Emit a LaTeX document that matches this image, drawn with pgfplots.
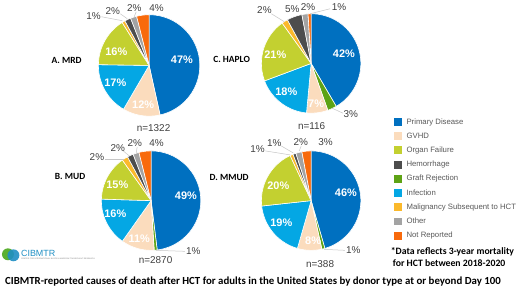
\documentclass[border=0pt]{standalone}
\usepackage{pgfplots}
\pgfplotsset{compat=1.18}
\usepackage{fontspec}
\setmainfont{Liberation Sans}
\newfontfamily\calfont{Carlito}
\definecolor{pdblue}{HTML}{0070C0}
\definecolor{gvhd}{HTML}{FBDCBD}
\definecolor{organ}{HTML}{C3D030}
\definecolor{hem}{HTML}{4D4D4D}
\definecolor{graft}{HTML}{5EA315}
\definecolor{infec}{HTML}{04A7E4}
\definecolor{malig}{HTML}{FBB92B}
\definecolor{other}{HTML}{A3A3A3}
\definecolor{notrep}{HTML}{F86A0C}
\definecolor{lbl}{HTML}{404040}
\definecolor{legtext}{HTML}{595959}
\definecolor{logoblue}{HTML}{1F8FC4}
\definecolor{logogreen}{HTML}{5BB031}
% one slice: centre x, centre y, radius, start %, end %, colour  (angles clockwise from 12 o'clock)
\newcommand\slice[6]{%
  \pgfmathsetmacro\sa{#4/\tot*360}%
  \pgfmathsetmacro\sb{#5/\tot*360}%
  \pgfmathtruncatemacro\sn{max(3,(\sb-\sa)/2+2)}%
  \addplot[forget plot, fill=#6, draw=white, line width=0.6pt, domain=\sa:\sb, samples=\sn, variable=\t]
    ({#1+#3*sin(\t)},{#2-#3*cos(\t)}) -- (#1,#2) -- cycle;
}
\newcommand\inl[3]{\node[text=white, font=\fontsize{11}{12}\selectfont\bfseries] at (#1,#2) {#3\%};}
\newcommand\outl[3]{\node[text=lbl, font=\fontsize{10}{11}\selectfont] at (#1,#2) {#3\%};}
\newcommand\lead[4]{\draw[gray!45, line width=0.5pt] (#1,#2) -- (#3,#4);}
\begin{document}
\begin{tikzpicture}
\begin{axis}[
  width=520pt, height=288pt, scale only axis,
  xmin=0, xmax=520, ymin=0, ymax=288, y dir=reverse,
  hide axis, clip=false,
  legend image code/.code={\path[#1, draw=none] (0pt,-4pt) rectangle (8pt,4pt); \path[draw=none, fill=none] (0pt,0pt) -- (11.5pt,0pt);},
  legend style={at={(axis cs:393.3,113.8)}, anchor=north west, draw=none, fill=none,
    font=\fontsize{7.8}{9}\selectfont, text=legtext, row sep=4.5pt,
    nodes={inner sep=1pt, text height=6pt, text depth=1.8pt},
    cells={anchor=west}},
]
\path[fill=white] (0,0) rectangle (520,288);
% ---------------- A. MRD (n=1322): 47,0,12,17,16,1,2,2,4
\def\tot{101}
\slice{150}{64}{51}{0}{47}{pdblue}
\slice{150}{64}{51}{47}{59}{gvhd}
\slice{150}{64}{51}{59}{76}{infec}
\slice{150}{64}{51}{76}{92}{organ}
\slice{150}{64}{51}{92}{93}{malig}
\slice{150}{64}{51}{93}{95}{hem}
\slice{150}{64}{51}{95}{97}{other}
\slice{150}{64}{51}{97}{101}{notrep}
% ---------------- C. HAPLO (n=116): 42,3,7,18,21,2,5,2,1
\def\tot{101}
\slice{313}{62}{50}{0}{42}{pdblue}
\slice{313}{62}{50}{42}{45}{graft}
\slice{313}{62}{50}{45}{52}{gvhd}
\slice{313}{62}{50}{52}{70}{infec}
\slice{313}{62}{50}{70}{91}{organ}
\slice{313}{62}{50}{91}{93}{malig}
\slice{313}{62}{50}{93}{98}{hem}
\slice{313}{62}{50}{98}{100}{other}
\slice{313}{62}{50}{100}{101}{notrep}
% ---------------- B. MUD (n=2870): 49,1,11,16,15,2,2,2,4
\def\tot{102}
\slice{152}{200}{50}{0}{49}{pdblue}
\slice{152}{200}{50}{49}{50}{graft}
\slice{152}{200}{50}{50}{61}{gvhd}
\slice{152}{200}{50}{61}{77}{infec}
\slice{152}{200}{50}{77}{92}{organ}
\slice{152}{200}{50}{92}{94}{malig}
\slice{152}{200}{50}{94}{96}{hem}
\slice{152}{200}{50}{96}{98}{other}
\slice{152}{200}{50}{98}{102}{notrep}
% ---------------- D. MMUD (n=388): 46,1,8,19,20,1,1,2,3
\def\tot{101}
\slice{313}{200}{50}{0}{46}{pdblue}
\slice{313}{200}{50}{46}{47}{graft}
\slice{313}{200}{50}{47}{55}{gvhd}
\slice{313}{200}{50}{55}{74}{infec}
\slice{313}{200}{50}{74}{94}{organ}
\slice{313}{200}{50}{94}{95}{malig}
\slice{313}{200}{50}{95}{96}{hem}
\slice{313}{200}{50}{96}{98}{other}
\slice{313}{200}{50}{98}{101}{notrep}
% legend
\addlegendimage{fill=pdblue}\addlegendentry{Primary Disease}
\addlegendimage{fill=gvhd}\addlegendentry{GVHD}
\addlegendimage{fill=organ}\addlegendentry{Organ Failure}
\addlegendimage{fill=hem}\addlegendentry{Hemorrhage}
\addlegendimage{fill=graft}\addlegendentry{Graft Rejection}
\addlegendimage{fill=infec}\addlegendentry{Infection}
\addlegendimage{fill=malig}\addlegendentry{Malignancy Subsequent to HCT}
\addlegendimage{fill=other}\addlegendentry{Other}
\addlegendimage{fill=notrep}\addlegendentry{Not Reported}
% inner labels
\inl{183}{58}{47}\inl{117}{50}{16}\inl{116}{81}{17}\inl{144}{104}{12}
\inl{346}{52}{42}\inl{277}{53}{21}\inl{288}{90}{18}\inl{318}{103}{7}
\inl{187}{195}{49}\inl{118}{184}{15}\inl{116}{213}{16}\inl{140}{238}{11}
\inl{348}{192}{46}\inl{280}{185}{20}\inl{283}{222}{19}\inl{315}{240}{8}
% outer labels and leader lines
\lead{102}{15}{123}{19}\lead{121}{12}{128}{17}\lead{137}{10}{135}{15}
\outl{94}{14}{1}\outl{113.5}{9.5}{2}\outl{135}{6.5}{2}\outl{157.5}{6.5}{4}
\lead{273}{12}{286}{20}\lead{332}{7}{312}{12}\lead{345}{112}{334}{107}
\outl{266}{8}{2}\outl{294}{7}{5}\outl{310}{5.5}{2}\outl{341}{5}{1}\outl{353}{113}{3}
\lead{106}{158}{125}{158}\lead{124}{150}{130}{155}\lead{138}{146}{137}{152}\lead{186}{251}{157}{250}
\outl{97.5}{156.5}{2}\outl{118.5}{147.5}{2}\outl{135.5}{142}{2}\outl{157.5}{142}{4}\outl{194.5}{251}{1}
\lead{267}{150}{292}{154}\lead{283}{145}{295}{152}\lead{303}{145}{301}{150}\lead{347}{250}{326}{249}
\outl{259}{148.5}{1}\outl{276}{142.5}{1}\outl{302.5}{141.5}{2}\outl{327.5}{141.5}{3}\outl{355.5}{249.5}{1}
% panel titles and n
\node[font=\calfont\fontsize{9.5}{10}\selectfont\bfseries] at (67,59) {A. MRD};
\node[font=\calfont\fontsize{9.5}{10}\selectfont\bfseries] at (233,58) {C. HAPLO};
\node[font=\calfont\fontsize{9.5}{10}\selectfont\bfseries] at (70.5,176) {B. MUD};
\node[font=\calfont\fontsize{9.5}{10}\selectfont\bfseries] at (230.5,177) {D. MMUD};
\node[text=lbl, font=\fontsize{10}{11}\selectfont] at (154.5,127) {n=1322};
\node[text=lbl, font=\fontsize{10}{11}\selectfont] at (313.5,125) {n=116};
\node[text=lbl, font=\fontsize{10}{11}\selectfont] at (156.5,260) {n=2870};
\node[text=lbl, font=\fontsize{10}{11}\selectfont] at (322,264) {n=388};
% footnote
\node[anchor=west, inner sep=0pt, font=\calfont\fontsize{9.8}{11}\selectfont\bfseries] at (393,251) {*Data reflects 3-year mortality};
\node[anchor=west, inner sep=0pt, font=\calfont\fontsize{9.8}{11}\selectfont\bfseries] at (395,263) {for HCT between 2018-2020};
% logo
\fill[logogreen] (8,254) circle[radius=6];
\fill[logoblue, opacity=0.9] (13.5,255) circle[radius=6];
\node[anchor=west, inner sep=0pt, text=logoblue, font=\fontsize{9}{10}\selectfont] at (21,253) {CIBMTR};
\node[anchor=west, inner sep=0pt, text=gray, font=\fontsize{2}{2}\selectfont] at (21,259) {CENTER FOR INTERNATIONAL BLOOD \& MARROW TRANSPLANT RESEARCH};
% caption
\node[anchor=west, inner sep=0pt, font=\calfont\fontsize{10.9}{12}\selectfont\bfseries] at (5,281) {CIBMTR-reported causes of death after HCT for adults in the United States by donor type at or beyond Day 100};
\end{axis}
\end{tikzpicture}
\end{document}
